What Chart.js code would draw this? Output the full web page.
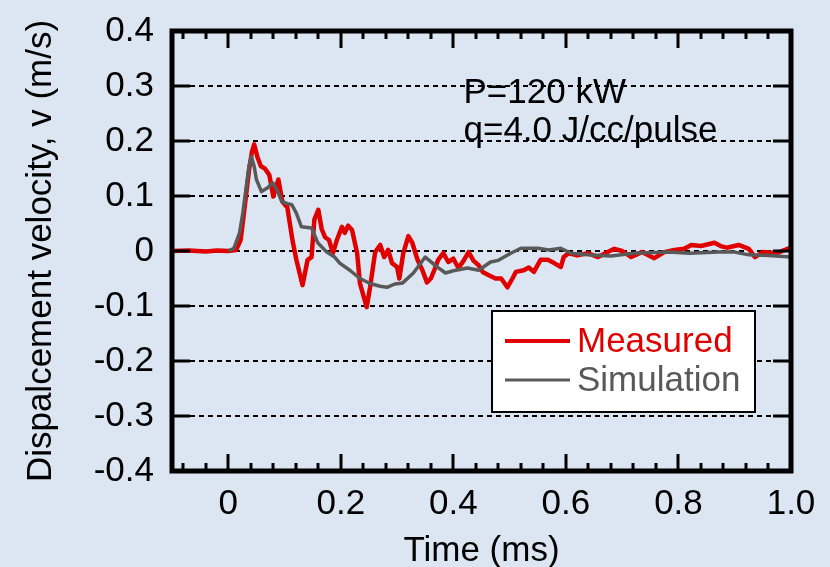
<!DOCTYPE html>
<html>
<head>
<meta charset="utf-8">
<script src="https://cdn.jsdelivr.net/npm/chart.js@4/dist/chart.umd.min.js"></script>
<style>
  html, body { margin: 0; padding: 0; background: #dce6f2; }
  #wrap { width: 830px; height: 567px; }
</style>
</head>
<body>
<div id="wrap"><canvas id="myChart" width="830" height="567"></canvas></div>
<script>
let font = "'Liberation Sans', Arial, sans-serif";

// Measured displacement velocity (red)
let measuredTime = [-0.1, -0.07, -0.04, -0.02, 0, 0.014, 0.022, 0.028, 0.037, 0.042, 0.046, 0.052, 0.058, 0.065, 0.073, 0.08, 0.089, 0.096, 0.105, 0.114, 0.121, 0.132, 0.141, 0.148, 0.153, 0.16, 0.166, 0.172, 0.179, 0.186, 0.193, 0.202, 0.207, 0.213, 0.22, 0.229, 0.234, 0.246, 0.252, 0.261, 0.27, 0.277, 0.284, 0.291, 0.3, 0.304, 0.311, 0.32, 0.327, 0.336, 0.345, 0.353, 0.36, 0.366, 0.373, 0.382, 0.391, 0.4, 0.409, 0.418, 0.427, 0.436, 0.445, 0.452, 0.463, 0.475, 0.485, 0.496, 0.505, 0.511, 0.525, 0.534, 0.543, 0.555, 0.568, 0.579, 0.591, 0.596, 0.605, 0.62, 0.639, 0.657, 0.67, 0.686, 0.7, 0.716, 0.735, 0.757, 0.775, 0.793, 0.81, 0.823, 0.84, 0.864, 0.875, 0.886, 0.907, 0.925, 0.936, 0.95, 0.966, 0.975, 0.996, 1.0];
let measuredVel = [0, 0.001, -0.001, 0.001, 0, 0.002, 0.02, 0.07, 0.148, 0.18, 0.194, 0.17, 0.154, 0.15, 0.138, 0.099, 0.13, 0.09, 0.079, 0.02, -0.016, -0.062, -0.016, -0.011, 0.057, 0.075, 0.04, 0.025, 0.02, -0.004, 0.02, 0.044, 0.033, 0.046, 0.038, -0.004, -0.059, -0.102, -0.066, -0.002, 0.011, -0.011, 0.002, -0.022, -0.029, -0.05, -0.004, 0.027, 0.015, -0.015, -0.035, -0.057, -0.05, -0.035, -0.016, -0.004, -0.02, -0.014, -0.031, -0.018, -0.002, -0.018, -0.026, -0.038, -0.044, -0.05, -0.05, -0.066, -0.05, -0.038, -0.035, -0.03, -0.038, -0.016, -0.016, -0.022, -0.029, -0.011, -0.004, -0.008, -0.004, -0.011, -0.004, 0.004, 0, -0.011, -0.002, -0.013, -0.002, 0.002, 0.004, 0.011, 0.009, 0.015, 0.009, 0.006, 0.011, 0.004, -0.011, -0.002, -0.003, -0.004, 0.005, 0.005];

// Simulation (gray)
let simTime = [0, 0.01, 0.02, 0.026, 0.032, 0.037, 0.041, 0.046, 0.05, 0.059, 0.07, 0.079, 0.088, 0.095, 0.105, 0.113, 0.121, 0.13, 0.148, 0.159, 0.175, 0.189, 0.198, 0.216, 0.234, 0.252, 0.27, 0.282, 0.296, 0.31, 0.329, 0.35, 0.371, 0.386, 0.4, 0.425, 0.445, 0.466, 0.48, 0.502, 0.52, 0.55, 0.57, 0.591, 0.609, 0.639, 0.68, 0.721, 0.782, 0.82, 0.871, 0.9, 0.925, 0.96, 1.0];
let simVel = [0, 0.005, 0.033, 0.07, 0.117, 0.155, 0.172, 0.154, 0.13, 0.108, 0.115, 0.124, 0.108, 0.09, 0.086, 0.084, 0.069, 0.044, 0.042, 0.015, -0.002, -0.011, -0.022, -0.035, -0.05, -0.059, -0.064, -0.066, -0.06, -0.058, -0.04, -0.011, -0.029, -0.04, -0.036, -0.031, -0.035, -0.02, -0.017, -0.004, 0.005, 0.005, 0.002, 0.005, -0.004, -0.007, -0.009, -0.004, -0.002, -0.004, -0.002, -0.002, -0.007, -0.008, -0.011];

let xTicks = [0, 0.2, 0.4, 0.6, 0.8, 1.0];
let xMinorTicks = [-0.08, -0.04, 0.04, 0.08, 0.12, 0.16, 0.24, 0.28, 0.32, 0.36, 0.44, 0.48, 0.52, 0.56, 0.64, 0.68, 0.72, 0.76, 0.84, 0.88, 0.92, 0.96];
let yTicks = [-0.4, -0.3, -0.2, -0.1, 0, 0.1, 0.2, 0.3, 0.4];
let noteLines = ['P=120 kW', 'q=4.0 J/cc/pulse'];
let seriesNames = ['Measured', 'Simulation'];
let colorHex = ['#e00000', '#595959'];

const toPoints = (xs, ys) => xs.map((x, i) => ({ x: x, y: ys[i] }));

const framePlugin = {
  id: 'frame',
  beforeDatasetsDraw(chart) {
    const { ctx, chartArea: a, scales: { y } } = chart;
    ctx.save();
    ctx.strokeStyle = '#000';
    ctx.lineWidth = 2;
    ctx.setLineDash([5, 4]);
    yTicks.slice(1, -1).forEach(v => {
      const py = Math.round(y.getPixelForValue(v));
      ctx.beginPath();
      ctx.moveTo(a.left + 18, py);
      ctx.lineTo(a.right - 18, py);
      ctx.stroke();
    });
    ctx.restore();
  },
  afterDatasetsDraw(chart) {
    const { ctx, chartArea: a, scales: { x, y } } = chart;
    ctx.save();
    ctx.strokeStyle = '#000';
    ctx.lineWidth = 3;
    // y ticks, both sides
    yTicks.forEach(v => {
      const py = Math.round(y.getPixelForValue(v));
      ctx.beginPath();
      ctx.moveTo(a.left, py); ctx.lineTo(a.left + 18, py);
      ctx.moveTo(a.right, py); ctx.lineTo(a.right - 18, py);
      ctx.stroke();
    });
    // x ticks, top and bottom
    const tick = (v, len) => {
      const px = Math.round(x.getPixelForValue(v));
      ctx.beginPath();
      ctx.moveTo(px, a.bottom); ctx.lineTo(px, a.bottom - len);
      ctx.moveTo(px, a.top); ctx.lineTo(px, a.top + len);
      ctx.stroke();
    };
    xTicks.forEach(v => tick(v, 17));
    xMinorTicks.forEach(v => tick(v, 8));
    // frame
    ctx.lineWidth = 5;
    ctx.strokeRect(a.left, a.top, a.right - a.left, a.bottom - a.top);

    // annotation
    ctx.fillStyle = '#000';
    ctx.font = '35px ' + font;
    ctx.textBaseline = 'alphabetic';
    ctx.textAlign = 'left';
    ctx.fillText(noteLines[0], x.getPixelForValue(0.418), y.getPixelForValue(0.27));
    ctx.fillText(noteLines[1], x.getPixelForValue(0.418), y.getPixelForValue(0.2));

    // legend box
    const lx = a.right - 299, ly = a.top + 280, lw = 263, lh = 101;
    ctx.fillStyle = '#fff';
    ctx.fillRect(lx, ly, lw, lh);
    ctx.lineWidth = 2;
    ctx.strokeStyle = '#000';
    ctx.strokeRect(lx, ly, lw, lh);
    const rows = [{ dy: 30, w: 4 }, { dy: 69, w: 3 }];
    rows.forEach((r, i) => {
      ctx.strokeStyle = colorHex[i];
      ctx.lineWidth = r.w;
      ctx.beginPath();
      ctx.moveTo(lx + 13, ly + r.dy);
      ctx.lineTo(lx + 78, ly + r.dy);
      ctx.stroke();
      ctx.fillStyle = colorHex[i];
      ctx.textBaseline = 'middle';
      ctx.fillText(seriesNames[i], lx + 85, ly + r.dy + 1);
    });
    ctx.restore();
  }
};

let ctx = document.getElementById('myChart').getContext('2d');
let myChart = new Chart(ctx, {
  type: 'scatter',
  data: {
    datasets: [{
      label: seriesNames[1],
      data: toPoints(simTime, simVel),
      showLine: true,
      borderColor: colorHex[1],
      borderWidth: 3.5,
      borderJoinStyle: 'round',
      pointRadius: 0,
      tension: 0
    }, {
      label: seriesNames[0],
      data: toPoints(measuredTime, measuredVel),
      showLine: true,
      borderColor: colorHex[0],
      borderWidth: 4.5,
      borderJoinStyle: 'round',
      pointRadius: 0,
      tension: 0
    }]
  },
  options: {
    responsive: false,
    animation: false,
    layout: { padding: { top: 28, right: 39, left: 0, bottom: 0 } },
    plugins: {
      legend: { display: false },
      tooltip: { enabled: false }
    },
    scales: {
      x: {
        type: 'linear',
        min: -0.1,
        max: 1.0,
        grid: { display: false },
        border: { display: false },
        afterBuildTicks: (scale) => { scale.ticks = xTicks.map(v => ({ value: v })); },
        afterFit: (scale) => { scale.height = 96; },
        ticks: {
          color: '#000',
          padding: 4,
          maxRotation: 0,
          font: { family: font, size: 35 },
          callback: (v) => v === 0 ? '0' : v.toFixed(1)
        },
        title: {
          display: true,
          text: 'Time (ms)',
          color: '#000',
          padding: { top: 17, bottom: -5 },
          font: { family: font, size: 35 }
        }
      },
      y: {
        min: -0.4,
        max: 0.4,
        grid: { display: false },
        border: { display: false },
        afterBuildTicks: (scale) => { scale.ticks = yTicks.map(v => ({ value: v })); },
        afterFit: (scale) => { scale.width = 172; },
        ticks: {
          color: '#000',
          padding: 10,
          font: { family: font, size: 35 },
          callback: (v) => Math.abs(v) < 1e-9 ? '0' : v.toFixed(1)
        },
        title: {
          display: true,
          text: 'Dispalcement velocity, v (m/s)',
          color: '#000',
          padding: { top: 20, bottom: 0 },
          font: { family: font, size: 35 }
        }
      }
    }
  },
  plugins: [framePlugin]
});
</script>
</body>
</html>
